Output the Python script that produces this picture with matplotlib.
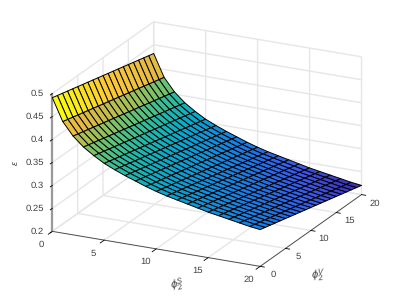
import numpy as np
import matplotlib
matplotlib.use('Agg')
import matplotlib.pyplot as plt
from matplotlib.colors import LinearSegmentedColormap, Normalize
from mpl_toolkits.mplot3d import proj3d

plt.rcParams['font.family'] = ['Liberation Sans', 'DejaVu Sans']
plt.rcParams['mathtext.fontset'] = 'custom'
plt.rcParams['mathtext.rm'] = 'Liberation Sans'
plt.rcParams['mathtext.it'] = 'Liberation Sans:italic'
plt.rcParams['text.hinting'] = 'none'

phi_s = [0, 1, 2, 3, 4, 5, 6, 7, 8, 9, 10, 11, 12, 13, 14, 15, 16, 17, 18, 19, 20]
phi_v = [0, 1, 2, 3, 4, 5, 6, 7, 8, 9, 10, 11, 12, 13, 14, 15, 16, 17, 18, 19, 20]

# epsilon x 1000, one row per phi_s value
e_milli = [
    [491, 488, 485, 482, 479, 476, 473, 470, 467, 464, 461, 458, 455, 452, 449, 446, 443, 440, 437, 434, 431],
    [443, 440, 437, 434, 431, 428, 425, 422, 419, 416, 413, 410, 407, 404, 401, 398, 395, 392, 389, 386, 383],
    [415, 412, 409, 406, 403, 400, 397, 394, 391, 388, 385, 382, 379, 376, 373, 370, 367, 364, 361, 358, 355],
    [395, 392, 389, 386, 383, 380, 377, 374, 371, 368, 365, 362, 359, 356, 353, 350, 347, 344, 341, 338, 335],
    [380, 377, 374, 371, 368, 365, 362, 359, 356, 353, 350, 347, 344, 341, 338, 335, 332, 329, 326, 323, 320],
    [367, 364, 361, 358, 355, 352, 349, 346, 343, 340, 337, 334, 331, 328, 325, 322, 319, 316, 313, 310, 307],
    [357, 354, 351, 348, 345, 342, 339, 336, 333, 330, 327, 324, 321, 318, 315, 312, 309, 306, 303, 300, 297],
    [348, 345, 342, 339, 336, 333, 330, 327, 324, 321, 318, 315, 312, 309, 306, 303, 300, 297, 294, 291, 288],
    [340, 337, 334, 331, 328, 325, 322, 319, 316, 313, 310, 307, 304, 301, 298, 295, 292, 289, 286, 283, 280],
    [332, 329, 326, 323, 320, 317, 314, 311, 308, 305, 302, 299, 296, 293, 290, 287, 284, 281, 278, 275, 272],
    [325, 322, 319, 316, 313, 310, 307, 304, 301, 298, 295, 292, 289, 286, 283, 280, 277, 274, 271, 268, 265],
    [319, 316, 313, 310, 307, 304, 301, 298, 295, 292, 289, 286, 283, 280, 277, 274, 271, 268, 265, 262, 259],
    [314, 311, 308, 305, 302, 299, 296, 293, 290, 287, 284, 281, 278, 275, 272, 269, 266, 263, 260, 257, 254],
    [309, 306, 303, 300, 297, 294, 291, 288, 285, 282, 279, 276, 273, 270, 267, 264, 261, 258, 255, 252, 249],
    [304, 301, 298, 295, 292, 289, 286, 283, 280, 277, 274, 271, 268, 265, 262, 259, 256, 253, 250, 247, 244],
    [299, 296, 293, 290, 287, 284, 281, 278, 275, 272, 269, 266, 263, 260, 257, 254, 251, 248, 245, 242, 239],
    [295, 292, 289, 286, 283, 280, 277, 274, 271, 268, 265, 262, 259, 256, 253, 250, 247, 244, 241, 238, 235],
    [291, 288, 285, 282, 279, 276, 273, 270, 267, 264, 261, 258, 255, 252, 249, 246, 243, 240, 237, 234, 231],
    [287, 284, 281, 278, 275, 272, 269, 266, 263, 260, 257, 254, 251, 248, 245, 242, 239, 236, 233, 230, 227],
    [283, 280, 277, 274, 271, 268, 265, 262, 259, 256, 253, 250, 247, 244, 241, 238, 235, 232, 229, 226, 223],
    [280, 277, 274, 271, 268, 265, 262, 259, 256, 253, 250, 247, 244, 241, 238, 235, 232, 229, 226, 223, 220],
]

xy_ticks = [0, 5, 10, 15, 20]
z_ticks = [0.2, 0.25, 0.3, 0.35, 0.4, 0.45, 0.5]
xy_ticklabels = ['0', '5', '10', '15', '20']
z_ticklabels = ['0.2', '0.25', '0.3', '0.35', '0.4', '0.45', '0.5']

parula = LinearSegmentedColormap.from_list('parula', [
    (0.242, 0.150, 0.660), (0.240, 0.340, 0.930), (0.110, 0.470, 0.910),
    (0.060, 0.570, 0.860), (0.030, 0.670, 0.790), (0.130, 0.730, 0.650),
    (0.380, 0.760, 0.470), (0.660, 0.750, 0.330), (0.900, 0.730, 0.260),
    (0.990, 0.790, 0.200), (0.976, 0.980, 0.050)])

X, Y = np.meshgrid(phi_s, phi_v, indexing='ij')
Z = np.array(e_milli) / 1000.0
colors = parula(Normalize(Z.min(), Z.max())(Z))

fig = plt.figure(figsize=(3.99, 2.99), dpi=100)
size_w = 290 / 399
size_h = 290 / 299
ax = fig.add_axes([203 / 399 - size_w / 2, 1 - 148 / 299 - size_h / 2, size_w, size_h], projection='3d')
ax.set_proj_type('ortho')
ax.view_init(elev=20.2, azim=-64)
ax.set_box_aspect((1, 1, 0.635), zoom=1.2)

surf = ax.plot_surface(X, Y, Z, facecolors=colors, rstride=1, cstride=1, shade=False,
                       edgecolor='#000000', linewidth=0.7, antialiased=True)
surf.set_clip_on(False)

ax.set_xlim(0, 20, view_margin=0)
ax.set_ylim(0, 20, view_margin=0)
ax.set_zlim(0.2, 0.5, view_margin=0)
ax.set_xticks(xy_ticks)
ax.set_yticks(xy_ticks)
ax.set_zticks(z_ticks)
ax.set_xticklabels([])
ax.set_yticklabels([])
ax.set_zticklabels([])

for axis in [ax.xaxis, ax.yaxis, ax.zaxis]:
    axis.set_pane_color((1, 1, 1, 0))
    axis.pane.set_edgecolor('#e6e6e6')
    axis.pane.set_linewidth(1.0)
    axis._axinfo['grid'].update(color='#e6e6e6', linewidth=1.0)
    axis._axinfo['tick'].update(inward_factor=0.25, outward_factor=0.0, linewidth={True: 0.6, False: 0.6})
    axis.line.set_color('#404040')
    axis.line.set_linewidth(0.6)
ax.xaxis._axinfo['tick']['inward_factor'] = 0.5
ax.zaxis.line.set_color('#999999')
ax.zaxis.line.set_linewidth(1.6)
ax.zaxis.set_ticks_position('lower')


# tick labels sit at a fixed pixel offset from the projected tick
def tick_label(x, y, z, s, dx, dy, ha='center'):
    px, py, _ = proj3d.proj_transform(x, y, z, ax.get_proj())
    ax.annotate(s, (px, py), xytext=(dx, dy), textcoords='offset pixels', ha=ha, va='center',
                fontsize=6.8, color='#404040', annotation_clip=False)


for t, s in zip(xy_ticks, xy_ticklabels):
    tick_label(t, 0, 0.2, s, -11, -13)
    tick_label(20, t, 0.2, s, 13, -8.5)
for t, s in zip(z_ticks, z_ticklabels):
    tick_label(0, 0, t, s, -8, 0, ha='right')

fig.text(16 / 399, 1 - 163 / 299, r'$\epsilon$', fontsize=6.5, color='#404040', rotation=90, ha='center', va='center')
fig.text(177 / 399, 1 - 285 / 299, r'$\phi_2^S$', fontsize=8, color='#404040', rotation=10, ha='center', va='center')
fig.text(319 / 399, 1 - 275 / 299, r'$\phi_2^V$', fontsize=8, color='#404040', rotation=5, ha='center', va='center')

fig.savefig('out.png', dpi=100)
